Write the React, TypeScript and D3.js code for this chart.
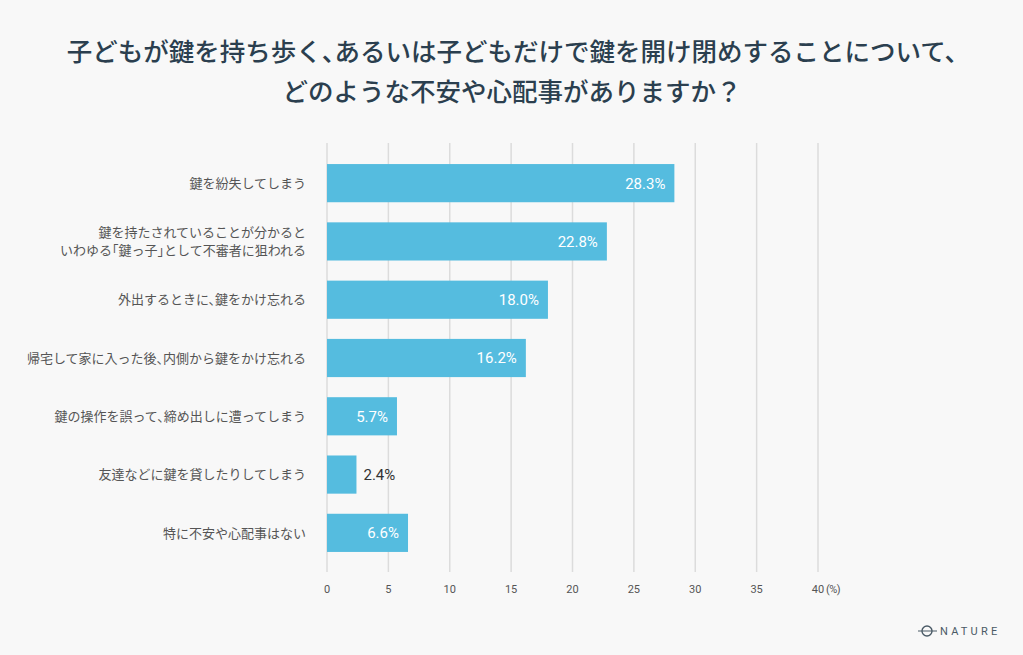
import React, { useEffect, useRef } from "react";
import * as d3 from "d3";

const titleLines = [
  "子どもが鍵を持ち歩く、あるいは子どもだけで鍵を開け閉めすることについて、",
  "どのような不安や心配事がありますか？",
];

const categories = [
  ["鍵を紛失してしまう"],
  ["鍵を持たされていることが分かると", "いわゆる「鍵っ子」として不審者に狙われる"],
  ["外出するときに、鍵をかけ忘れる"],
  ["帰宅して家に入った後、内側から鍵をかけ忘れる"],
  ["鍵の操作を誤って、締め出しに遭ってしまう"],
  ["友達などに鍵を貸したりしてしまう"],
  ["特に不安や心配事はない"],
];

const values = [28.3, 22.8, 18.0, 16.2, 5.7, 2.4, 6.6];

const ticks = [0, 5, 10, 15, 20, 25, 30, 35, 40];

const FONT = "Roboto, 'Noto Sans CJK JP', sans-serif";
const JP = "'Noto Sans CJK JP', Roboto, sans-serif";

const App = () => {
  const ref = useRef<SVGGElement>(null);

  useEffect(() => {
    document.body.style.margin = "0";
    const g = d3.select(ref.current);
    g.selectAll("*").remove();

    const x = d3.scaleLinear().domain([0, 40]).range([327, 818]);
    const y = d3
      .scaleBand<number>()
      .domain(d3.range(categories.length))
      .range([154, 562])
      .paddingInner(0.345)
      .paddingOuter(0.1725);

    // grid lines
    g.selectAll("line.grid")
      .data(ticks)
      .enter()
      .append("line")
      .attr("x1", (d) => x(d))
      .attr("x2", (d) => x(d))
      .attr("y1", 143)
      .attr("y2", 572)
      .attr("stroke", "#dcdcdc")
      .attr("stroke-width", 1.5);

    // tick labels
    g.selectAll("text.tick")
      .data(ticks)
      .enter()
      .append("text")
      .attr("x", (d) => x(d))
      .attr("y", 593)
      .attr("text-anchor", "middle")
      .attr("font-family", FONT)
      .attr("font-size", 11)
      .attr("fill", "#555")
      .text((d) => String(d));
    g.append("text")
      .attr("x", x(40) + 8)
      .attr("y", 593)
      .attr("font-family", FONT)
      .attr("font-size", 11)
      .attr("letter-spacing", -0.5)
      .attr("fill", "#555")
      .text("(%)");

    // bars
    g.selectAll("rect.bar")
      .data(values)
      .enter()
      .append("rect")
      .attr("x", x(0))
      .attr("y", (_, i) => y(i)!)
      .attr("width", (d) => x(d) - x(0))
      .attr("height", y.bandwidth())
      .attr("fill", "#55bcdf");

    // value labels
    g.selectAll("text.val")
      .data(values)
      .enter()
      .append("text")
      .attr("x", (d) => (x(d) - x(0) > 40 ? x(d) - 9 : x(d) + 7))
      .attr("y", (_, i) => y(i)! + y.bandwidth() / 2)
      .attr("dy", "0.36em")
      .attr("text-anchor", (d) => (x(d) - x(0) > 40 ? "end" : "start"))
      .attr("font-family", FONT)
      .attr("font-size", 15)
      .attr("fill", (d) => (x(d) - x(0) > 40 ? "#ffffff" : "#333"))
      .text((d) => d.toFixed(1) + "%");

    // category labels
    categories.forEach((lines, i) => {
      const cy = y(i)! + y.bandwidth() / 2;
      const lh = 18;
      const t = g
        .append("text")
        .attr("text-anchor", "end")
        .attr("font-family", JP)
        .attr("font-size", 13)
        .attr("fill", "#555")
        .style("font-feature-settings", "'halt'");
      lines.forEach((l, j) => {
        t.append("tspan")
          .attr("x", 306)
          .attr("y", cy + (j - (lines.length - 1) / 2) * lh)
          .attr("dy", "0.36em")
          .text(l);
      });
    });

    // title
    g.selectAll("text.title")
      .data(titleLines)
      .enter()
      .append("text")
      .attr("x", 512)
      .attr("y", (_, i) => 61 + i * 40)
      .attr("text-anchor", "middle")
      .attr("font-family", JP)
      .attr("font-size", 25.5)
      .attr("font-weight", 500)
      .attr("fill", "#2b3f4f")
      .style("font-feature-settings", "'halt'")
      .text((d) => d);

    // logo
    const logo = g.append("g").attr("fill", "none").attr("stroke", "#4a5a66");
    logo.append("circle").attr("cx", 927).attr("cy", 631).attr("r", 5).attr("stroke-width", 1.4);
    logo.append("line").attr("x1", 918).attr("x2", 937).attr("y1", 631).attr("y2", 631).attr("stroke-width", 1);
    g.append("text")
      .attr("x", 940)
      .attr("y", 635)
      .attr("font-family", FONT)
      .attr("font-size", 11)
      .attr("letter-spacing", 3.2)
      .attr("fill", "#4a5a66")
      .text("NATURE");
  }, []);

  return (
    <svg width={1023} height={655} style={{ display: "block", background: "#f8f8f8" }}>
      <g ref={ref} />
    </svg>
  );
};

export default App;
